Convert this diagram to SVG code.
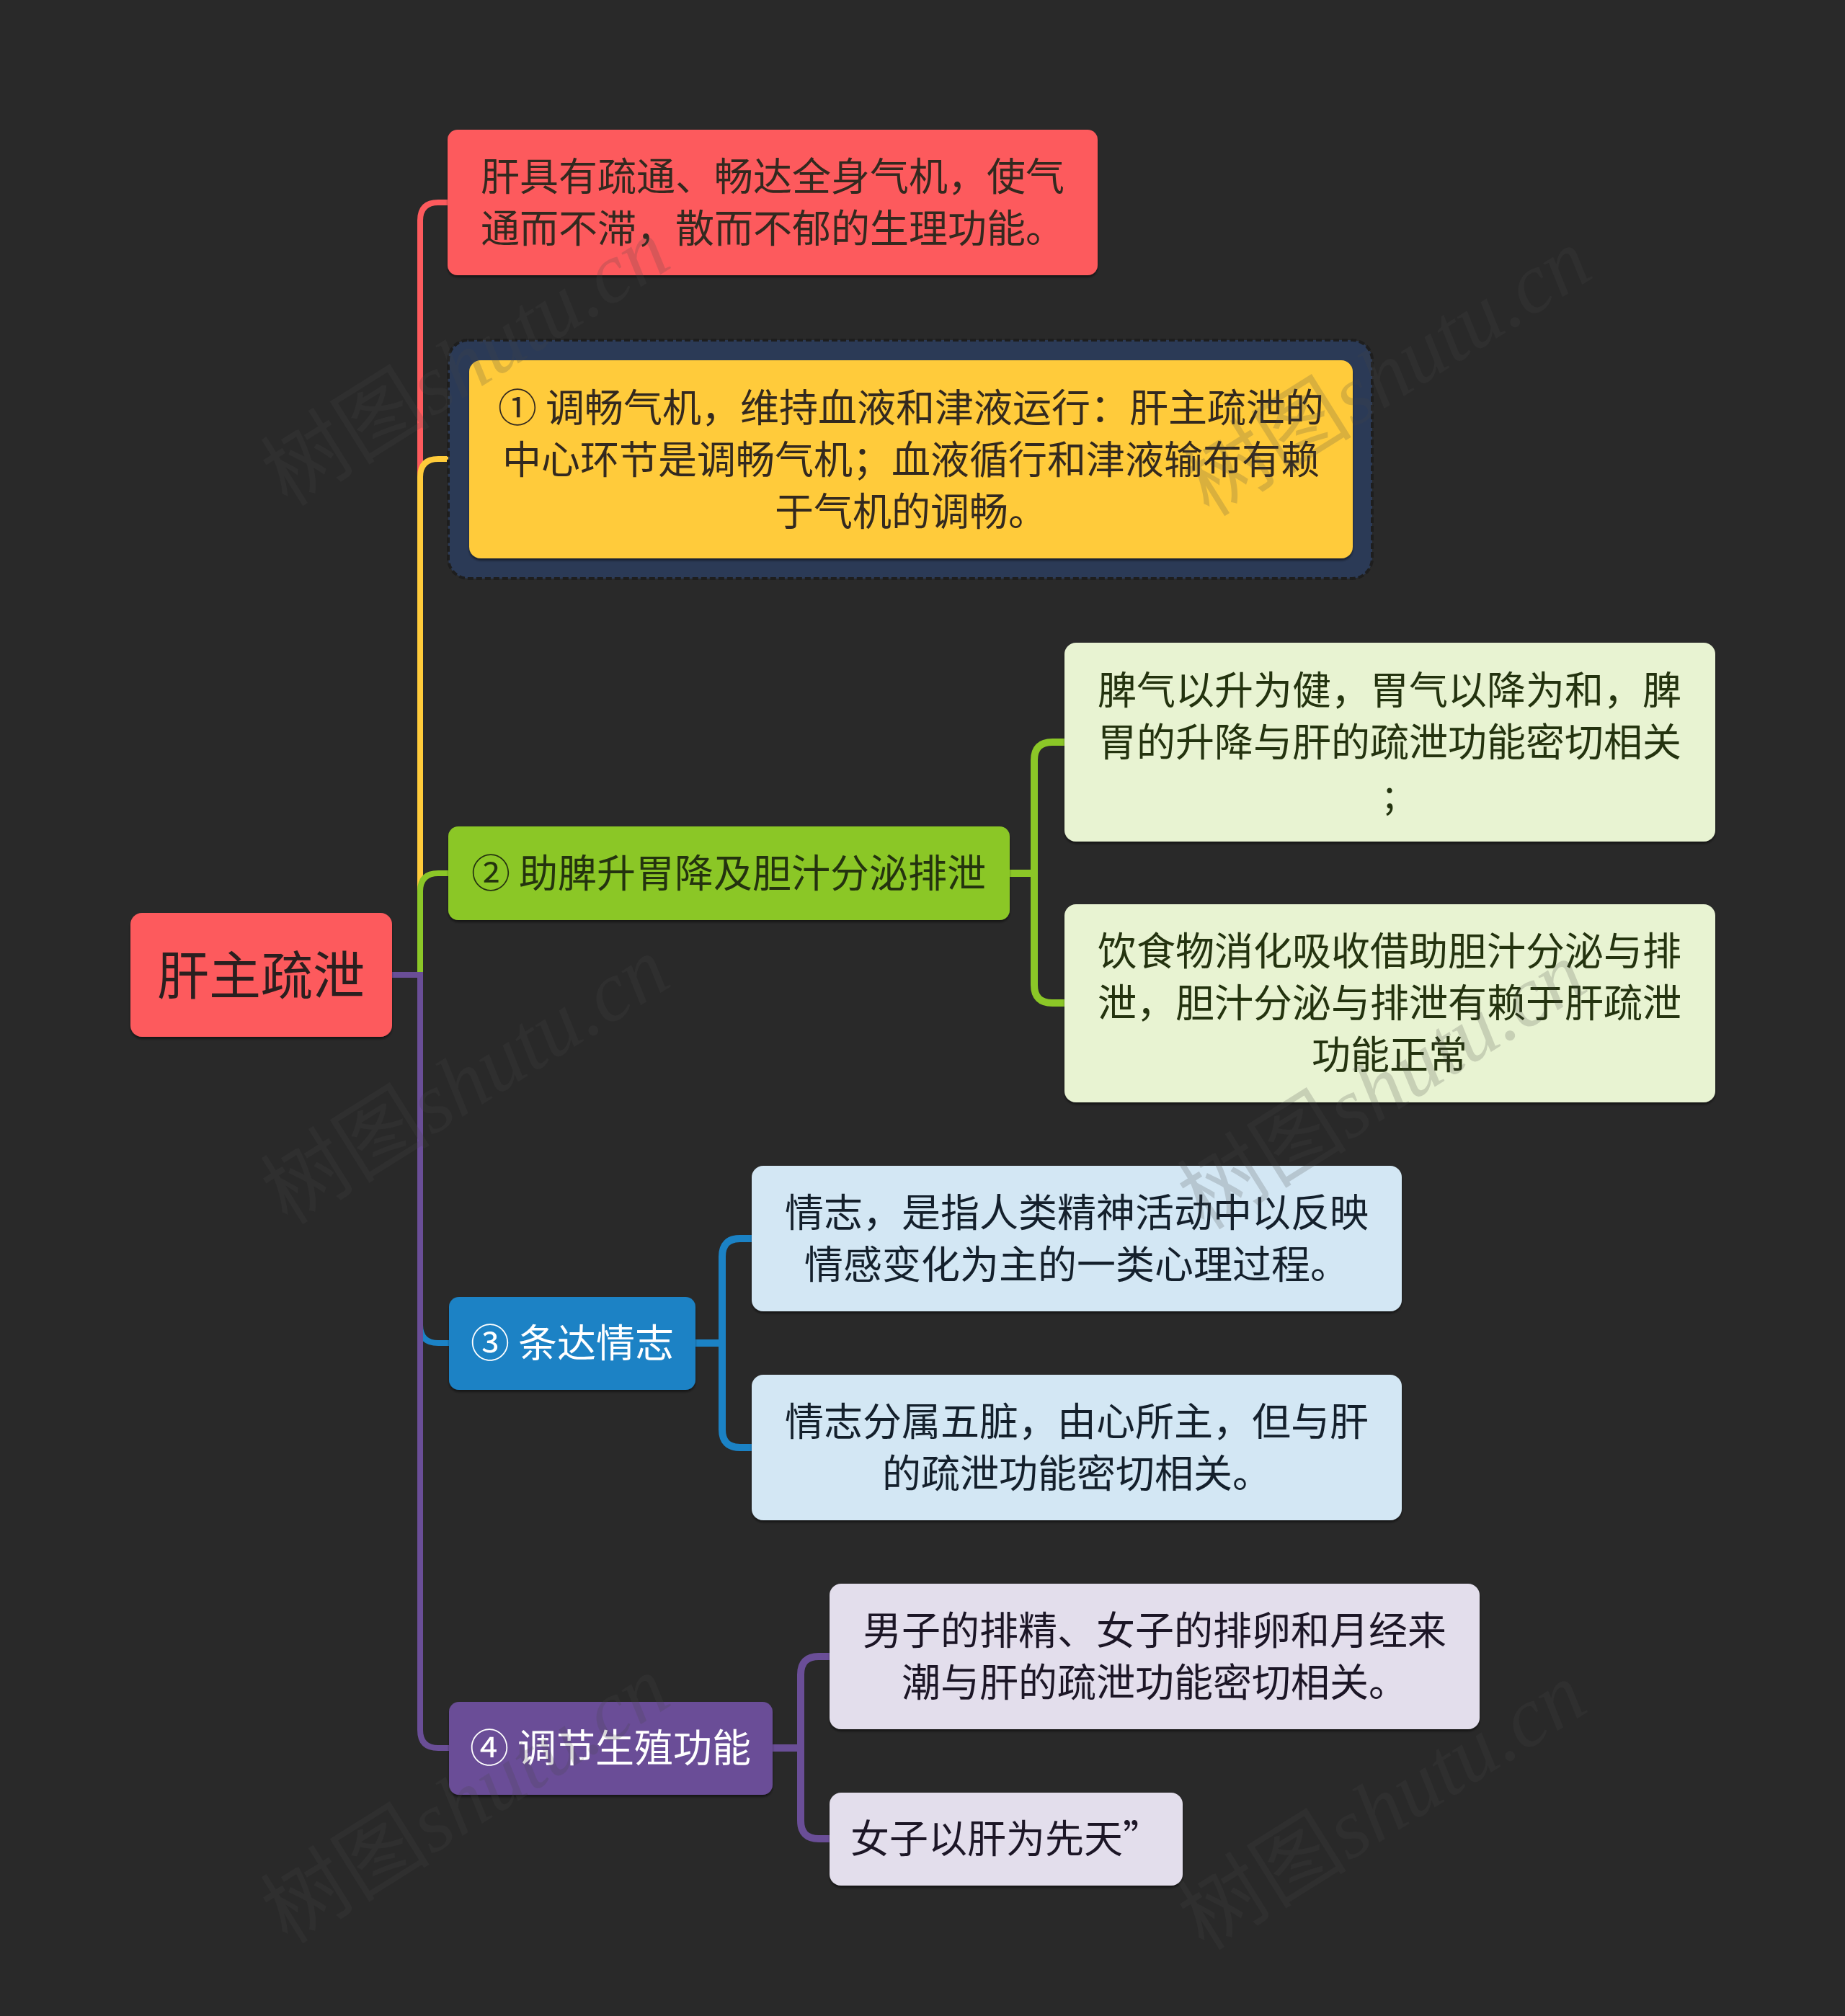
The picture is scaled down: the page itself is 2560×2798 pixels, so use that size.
<svg xmlns="http://www.w3.org/2000/svg" width="2560" height="2798" viewBox="0 0 2560 2798">
<defs>
<style>
.t{font-family:"Noto Sans CJK SC","Noto Sans",sans-serif;font-size:54px;text-anchor:middle}
.root{font-size:72px;fill:#2a1f1f}
.dk{fill:#33291f}
.gd{fill:#24330f}
.bd{fill:#14202c}
.pd{fill:#1c1626}
.wt{fill:#ffffff}
.trunk{fill:none;stroke-width:8;stroke-linecap:round}
.sub{fill:none;stroke-width:10;stroke-linecap:round}
.wm{font-family:"Liberation Serif",serif;font-style:italic;font-size:118px;fill:#474747;opacity:0.2;text-anchor:middle}
.wm .cjk{font-family:"Noto Sans CJK SC",sans-serif;font-style:normal}
</style>
<filter id="sh" x="-5%" y="-5%" width="110%" height="120%">
<feDropShadow dx="0" dy="3" stdDeviation="1.5" flood-color="#000" flood-opacity="0.45"/>
</filter>
</defs>
<rect width="2560" height="2798" fill="#292929"/>

<g id="connectors">
<path class="trunk" stroke="#fd5a5d" d="M544,1353 H583 V306 Q583,281 608,281 H621"/>
<path class="trunk" stroke="#ffcb3a" d="M544,1353 H583 V662 Q583,637 608,637 H651"/>
<path class="trunk" stroke="#8bc727" d="M544,1353 H583 V1237 Q583,1212 608,1212 H622"/>
<path class="trunk" stroke="#1b82c5" d="M544,1353 H583 V1839 Q583,1864 608,1864 H623"/>
<path class="trunk" stroke="#6a4e97" d="M544,1353 H583 V2401 Q583,2426 608,2426 H623"/>
<path class="sub" stroke="#8bc727" d="M1401,1212 H1435 V1055 Q1435,1030 1460,1030 H1477"/>
<path class="sub" stroke="#8bc727" d="M1401,1212 H1435 V1367 Q1435,1392 1460,1392 H1477"/>
<path class="sub" stroke="#1b82c5" d="M965,1864 H1002 V1744 Q1002,1719 1027,1719 H1043"/>
<path class="sub" stroke="#1b82c5" d="M965,1864 H1002 V1984 Q1002,2009 1027,2009 H1043"/>
<path class="sub" stroke="#6a4e97" d="M1072,2426 H1111 V2324 Q1111,2299 1136,2299 H1151"/>
<path class="sub" stroke="#6a4e97" d="M1072,2426 H1111 V2527 Q1111,2552 1136,2552 H1151"/>
</g>

<g id="root">
<rect x="181" y="1267" width="363" height="172" rx="16" fill="#fd5a5d" filter="url(#sh)"/>
<text class="t root" x="362" y="1380">肝主疏泄</text>
</g>

<g id="n1">
<rect x="621" y="180" width="902" height="202" rx="14" fill="#fd5a5d" filter="url(#sh)"/>
<text class="t dk" x="1072" y="265">肝具有疏通、畅达全身气机，使气</text>
<text class="t dk" x="1072" y="337">通而不滞，散而不郁的生理功能。</text>
</g>

<g id="n2">
<rect x="622" y="472" width="1282" height="331" rx="28" fill="#2b3a56" stroke="#1e1e1e" stroke-width="4" stroke-dasharray="8 4"/>
<rect x="651" y="500" width="1226" height="275" rx="16" fill="#ffcb3a" filter="url(#sh)"/>
<text class="t dk" x="1264" y="586">① 调畅气机，维持血液和津液运行：肝主疏泄的</text>
<text class="t dk" x="1264" y="658">中心环节是调畅气机；血液循行和津液输布有赖</text>
<text class="t dk" x="1264" y="730">于气机的调畅。</text>
</g>

<g id="n3">
<rect x="622" y="1147" width="779" height="130" rx="14" fill="#8bc727" filter="url(#sh)"/>
<text class="t gd" x="1011" y="1232">② 助脾升胃降及胆汁分泌排泄</text>
</g>

<g id="n3a">
<rect x="1477" y="892" width="903" height="276" rx="16" fill="#e8f3d2" filter="url(#sh)"/>
<text class="t gd" x="1928" y="978">脾气以升为健，胃气以降为和，脾</text>
<text class="t gd" x="1928" y="1050">胃的升降与肝的疏泄功能密切相关</text>
<text class="t gd" x="1928" y="1122">;</text>
</g>

<g id="n3b">
<rect x="1477" y="1255" width="903" height="275" rx="16" fill="#e8f3d2" filter="url(#sh)"/>
<text class="t gd" x="1928" y="1340">饮食物消化吸收借助胆汁分泌与排</text>
<text class="t gd" x="1928" y="1412">泄，胆汁分泌与排泄有赖于肝疏泄</text>
<text class="t gd" x="1928" y="1484">功能正常</text>
</g>

<g id="n4">
<rect x="623" y="1800" width="342" height="129" rx="14" fill="#1b82c5" filter="url(#sh)"/>
<text class="t wt" x="794" y="1884">③ 条达情志</text>
</g>

<g id="n4a">
<rect x="1043" y="1618" width="902" height="202" rx="16" fill="#d3e7f4" filter="url(#sh)"/>
<text class="t bd" x="1494" y="1703">情志，是指人类精神活动中以反映</text>
<text class="t bd" x="1494" y="1775">情感变化为主的一类心理过程。</text>
</g>

<g id="n4b">
<rect x="1043" y="1908" width="902" height="202" rx="16" fill="#d3e7f4" filter="url(#sh)"/>
<text class="t bd" x="1494" y="1993">情志分属五脏，由心所主，但与肝</text>
<text class="t bd" x="1494" y="2065">的疏泄功能密切相关。</text>
</g>

<g id="n5">
<rect x="623" y="2362" width="449" height="129" rx="14" fill="#6a4e97" filter="url(#sh)"/>
<text class="t wt" x="847" y="2446">④ 调节生殖功能</text>
</g>

<g id="n5a">
<rect x="1151" y="2198" width="902" height="202" rx="16" fill="#e3deec" filter="url(#sh)"/>
<text class="t pd" x="1602" y="2283">男子的排精、女子的排卵和月经来</text>
<text class="t pd" x="1602" y="2355">潮与肝的疏泄功能密切相关。</text>
</g>

<g id="n5b">
<rect x="1151" y="2488" width="490" height="129" rx="16" fill="#e3deec" filter="url(#sh)"/>
<text class="t pd" x="1180" y="2572" style="text-anchor:start">女子以肝为先天”</text>
</g>

<g id="watermarks">
<text class="wm" transform="translate(646,503) rotate(-32)" y="40"><tspan class="cjk">树图</tspan>shutu.cn</text>
<text class="wm" transform="translate(1925,517) rotate(-32)" y="40"><tspan class="cjk">树图</tspan>shutu.cn</text>
<text class="wm" transform="translate(646,1500) rotate(-32)" y="40"><tspan class="cjk">树图</tspan>shutu.cn</text>
<text class="wm" transform="translate(1918,1507) rotate(-32)" y="40"><tspan class="cjk">树图</tspan>shutu.cn</text>
<text class="wm" transform="translate(646,2498) rotate(-32)" y="40"><tspan class="cjk">树图</tspan>shutu.cn</text>
<text class="wm" transform="translate(1918,2507) rotate(-32)" y="40"><tspan class="cjk">树图</tspan>shutu.cn</text>
</g>
</svg>
